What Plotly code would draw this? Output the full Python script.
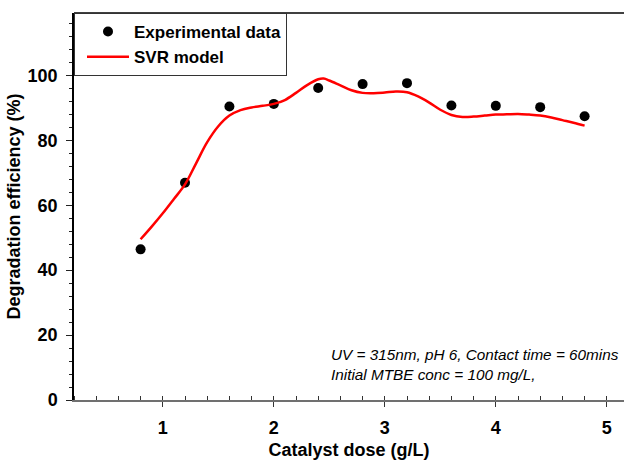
import plotly.graph_objects as go

# Experimental data
dose_exp = [0.8, 1.2, 1.6, 2.0, 2.4, 2.8, 3.2, 3.6, 4.0, 4.4, 4.8]
eff_exp = [46.4, 66.9, 90.4, 91.2, 96.1, 97.3, 97.6, 90.7, 90.6, 90.2, 87.4]

# SVR model curve
dose_svr = [0.8, 0.9, 1.0, 1.1, 1.2, 1.3, 1.4, 1.5, 1.6, 1.7, 1.8, 1.9, 2.0,
            2.1, 2.2, 2.3, 2.4, 2.45, 2.5, 2.6, 2.7, 2.8, 2.9, 3.0, 3.1, 3.2,
            3.3, 3.4, 3.5, 3.6, 3.7, 3.8, 3.9, 4.0, 4.1, 4.2, 4.3, 4.4, 4.5,
            4.6, 4.7, 4.8]
eff_svr = [49.5, 53.4, 57.5, 61.9, 66.4, 72.9, 79.4, 84.3, 87.6, 89.3, 90.1,
           90.6, 91.2, 92.4, 94.6, 97.0, 98.8, 99.0, 98.4, 96.9, 95.4, 94.6,
           94.5, 94.7, 95.0, 94.8, 93.5, 91.6, 89.4, 87.8, 87.2, 87.3, 87.6,
           87.9, 88.0, 88.1, 87.9, 87.6, 87.0, 86.2, 85.4, 84.5]

x_ticks = [1, 2, 3, 4, 5]
y_ticks = [0, 20, 40, 60, 80, 100]

FONT = "Liberation Sans"

fig = go.Figure()
fig.add_trace(go.Scatter(
    x=dose_exp, y=eff_exp, mode="markers", name="Experimental data",
    marker=dict(color="black", size=10),
))
fig.add_trace(go.Scatter(
    x=dose_svr, y=eff_svr, mode="lines", name="SVR model",
    line=dict(color="#ff0000", width=2.5, shape="spline", smoothing=1.0),
))

fig.update_layout(
    width=624, height=461,
    margin=dict(l=74, r=0, t=13, b=61),
    paper_bgcolor="white", plot_bgcolor="white",
    font=dict(family=FONT, color="black"),
    showlegend=True,
    legend=dict(
        x=0, y=1, xanchor="left", yanchor="top",
        bgcolor="white", bordercolor="#333333", borderwidth=1,
        font=dict(family=FONT, size=17, weight=700, color="black"),
        itemwidth=42, indentation=7,
        tracegroupgap=0,
    ),
    xaxis=dict(
        range=[0.2, 5.155],
        tickvals=x_ticks, ticks="outside", ticklen=5, tickwidth=1.2, tickcolor="#333",
        tickfont=dict(family=FONT, size=18, weight=700, color="black"),
        ticklabelstandoff=5,
        showline=True, linecolor="#707070", linewidth=2,
        showgrid=False, zeroline=False,
        minor=dict(dtick=0.2, ticks="inside", ticklen=4, tickwidth=1.2, tickcolor="#333", showgrid=False),
        title=dict(text="Catalyst dose (g/L)", standoff=7,
                   font=dict(family=FONT, size=18, weight=700, color="black")),
    ),
    yaxis=dict(
        range=[0, 119.2],
        tickvals=y_ticks, ticks="outside", ticklen=6, tickwidth=1.2, tickcolor="#222",
        tickfont=dict(family=FONT, size=18, weight=700, color="black"),
        ticklabelstandoff=5,
        showline=True, linecolor="black", linewidth=1.5,
        showgrid=False, zeroline=False,
        minor=dict(dtick=4, ticks="outside", ticklen=3, tickwidth=1.2, tickcolor="#222", showgrid=False),
        title=dict(text="Degradation efficiency (%)", standoff=2,
                   font=dict(family=FONT, size=18, weight=700, color="black")),
    ),
    shapes=[dict(type="line", xref="paper", yref="paper", x0=0, x1=1, y0=1, y1=1,
                 line=dict(color="black", width=1.5))],
    annotations=[dict(
        xref="x", yref="y", x=2.5, y=17.3, xanchor="left", yanchor="top",
        align="left", showarrow=False,
        text="UV = 315nm, pH 6, Contact time = 60mins<br>Initial MTBE conc = 100 mg/L,",
        font=dict(family=FONT, size=15.3, style="italic", color="black"),
    )],
)

fig.write_html("out.html")
